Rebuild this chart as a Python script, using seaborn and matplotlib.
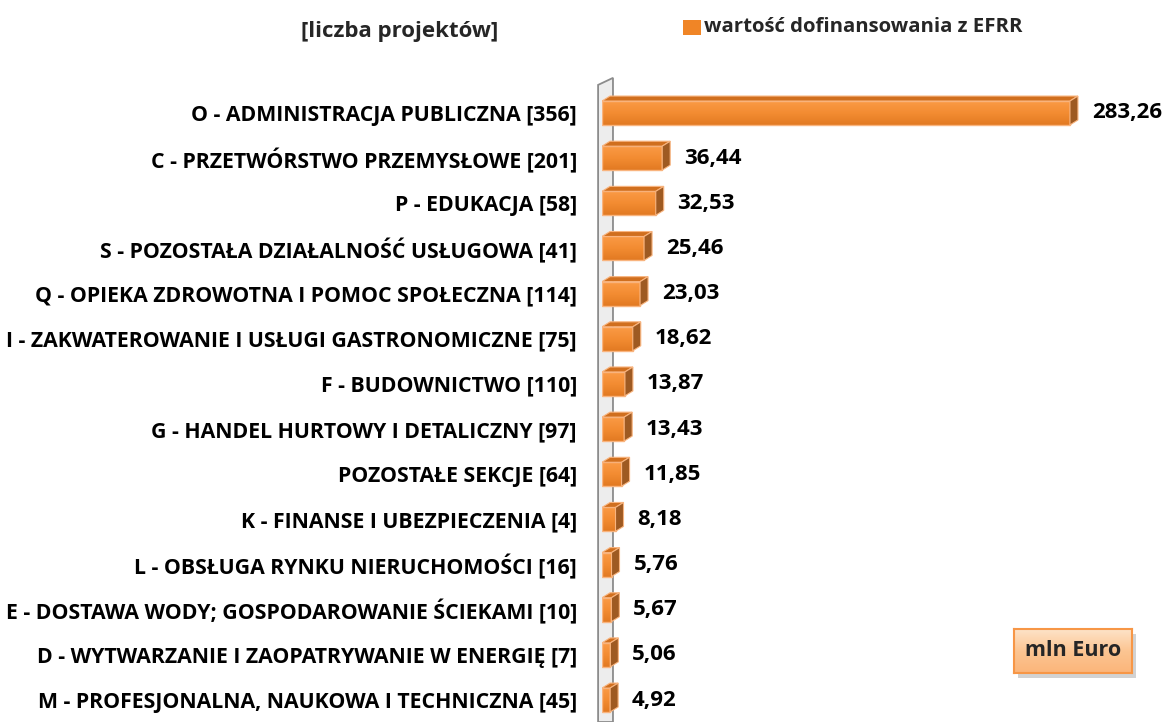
import matplotlib
matplotlib.use("Agg")
from matplotlib import pyplot as plt
from matplotlib.patches import Polygon
import numpy as np
import pandas as pd
import seaborn as sns

# data
sections = [
    "O - ADMINISTRACJA PUBLICZNA [356]",
    "C - PRZETWÓRSTWO PRZEMYSŁOWE [201]",
    "P - EDUKACJA [58]",
    "S - POZOSTAŁA DZIAŁALNOŚĆ USŁUGOWA [41]",
    "Q - OPIEKA ZDROWOTNA I POMOC SPOŁECZNA [114]",
    "I - ZAKWATEROWANIE I USŁUGI GASTRONOMICZNE [75]",
    "F - BUDOWNICTWO [110]",
    "G - HANDEL HURTOWY I DETALICZNY [97]",
    "POZOSTAŁE SEKCJE [64]",
    "K - FINANSE I UBEZPIECZENIA [4]",
    "L - OBSŁUGA RYNKU NIERUCHOMOŚCI [16]",
    "E - DOSTAWA WODY; GOSPODAROWANIE ŚCIEKAMI [10]",
    "D - WYTWARZANIE I ZAOPATRYWANIE W ENERGIĘ [7]",
    "M - PROFESJONALNA, NAUKOWA I TECHNICZNA [45]",
]
efrr = [283.26, 36.44, 32.53, 25.46, 23.03, 18.62, 13.87,
        13.43, 11.85, 8.18, 5.76, 5.67, 5.06, 4.92]
series_name = "wartość dofinansowania z EFRR"
unit = "mln Euro"
title = "[liczba projektów]"

df = pd.DataFrame({"sekcja": sections, "wartosc": efrr})

sns.set_style("white")
plt.rcParams["font.family"] = ["Open Sans", "DejaVu Sans"]

front = "#F38A2E"
top = "#D06F1E"
side = "#9E5A22"
edge = "#F9B47E"

fig = plt.figure(figsize=(11.7, 7.22), dpi=100)
ax = fig.add_axes([602 / 1170, 0, 488 / 1170, 639 / 722])
sns.barplot(data=df, y="sekcja", x="wartosc", orient="h", color=front,
            saturation=1, width=0.53, ax=ax, edgecolor=edge, linewidth=1)

# vertical gradient used on the bar fronts
grad = np.linspace(0, 1, 64).reshape(-1, 1)
front_cmap = matplotlib.colors.LinearSegmentedColormap.from_list(
    "front", ["#FA9A45", "#F38C32", "#E27A22"])

# pseudo 3D: top and side faces from each bar
dx, dy = 4.84, 0.11
bars = list(ax.patches)
for p in bars:
    x0, y0 = p.get_x(), p.get_y()
    w, h = p.get_width(), p.get_height()
    x1 = x0 + w
    im = ax.imshow(grad, aspect="auto", cmap=front_cmap,
                   extent=(x0, x1, y0 + h, y0), zorder=2.2)
    im.set_clip_path(p)
    ax.add_patch(Polygon([(x0, y0), (x0 + dx, y0 - dy), (x1 + dx, y0 - dy), (x1, y0)],
                         closed=True, facecolor=top, edgecolor=edge, lw=0.8, zorder=3))
    ax.add_patch(Polygon([(x1, y0), (x1 + dx, y0 - dy), (x1 + dx, y0 + h - dy), (x1, y0 + h)],
                         closed=True, facecolor=side, edgecolor=edge, lw=0.8, zorder=3))
    p.set_zorder(2.3)
    p.set_facecolor("none")
ax.set_xlim(0, 295.4)
ax.set_ylim(13.487, -0.664)

# wall on the left
ax.add_patch(Polygon([(-0.008, 0), (-0.008, 0.997), (0.0225, 1.008), (0.0225, 0)],
                     closed=True, transform=ax.transAxes, facecolor="#EDEDED",
                     edgecolor="#8C8C8C", lw=1.3, clip_on=False, zorder=1))

for v, p in zip(efrr, bars):
    yc = p.get_y() + p.get_height() / 2
    ax.annotate(f"{v:.2f}".replace(".", ","), xy=(v + dx, yc), xytext=(10, 0),
                textcoords="offset points", ha="left", va="center",
                fontsize=16, fontweight="bold", color="#000000", annotation_clip=False)

for s in ax.spines.values():
    s.set_visible(False)
ax.set_xticks([])
ax.set_xlabel("")
ax.set_ylabel("")
ax.tick_params(axis="y", length=0, pad=18)
for t in ax.get_yticklabels():
    t.set_fontsize(15.3)
    t.set_fontweight("bold")
    t.set_color("#000000")

fig.text(400 / 1170, 1 - 32 / 722, title, ha="center", va="center",
         fontsize=16, fontweight="bold")
fig.patches.append(plt.Rectangle((683 / 1170, 1 - 35 / 722), 18 / 1170, 15 / 722,
                                 transform=fig.transFigure, facecolor="#F08526",
                                 edgecolor="none"))
fig.text(704 / 1170, 1 - 27 / 722, series_name, ha="left", va="center",
         fontsize=14.7, fontweight="bold")

# unit box with shadow and gradient
sax = fig.add_axes([1018 / 1170, 1 - 678 / 722, 118 / 1170, 44 / 722])
sax.set_facecolor("#D2D2D2")
sax.set_xticks([])
sax.set_yticks([])
for s in sax.spines.values():
    s.set_visible(False)
sax.set_zorder(4)
bax = fig.add_axes([1014 / 1170, 1 - 673 / 722, 118 / 1170, 44 / 722])
box_cmap = matplotlib.colors.LinearSegmentedColormap.from_list(
    "box", ["#FEE3C8", "#FCC592", "#FBB57A"])
bax.imshow(grad, aspect="auto", cmap=box_cmap, extent=(0, 1, 0, 1))
bax.set_xticks([])
bax.set_yticks([])
for s in bax.spines.values():
    s.set_color("#F79646")
    s.set_linewidth(1.5)
bax.text(0.5, 0.5, unit, ha="center", va="center", transform=bax.transAxes,
         fontsize=15.5, fontweight="bold")
bax.set_zorder(5)

fig.savefig("out.png", dpi=100)
